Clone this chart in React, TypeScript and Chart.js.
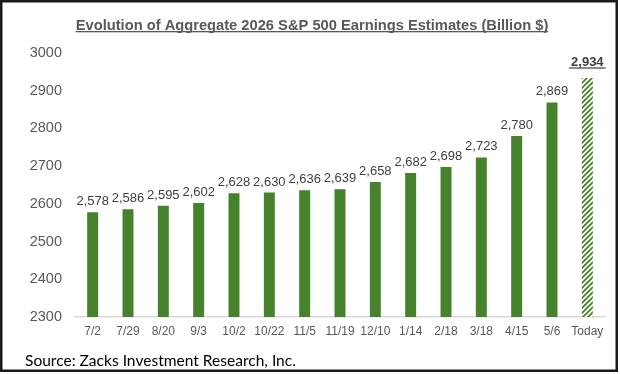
import React, { useEffect, useRef } from "react";
import { Chart, registerables } from "chart.js";

Chart.register(...registerables);

const categories = ["7/2", "7/29", "8/20", "9/3", "10/2", "10/22", "11/5", "11/19", "12/10", "1/14", "2/18", "3/18", "4/15", "5/6", "Today"];
const estimates = [2578, 2586, 2595, 2602, 2628, 2630, 2636, 2639, 2658, 2682, 2698, 2723, 2780, 2869, 2934];
const yMin = 2300;
const yMax = 3000;
const yStep = 100;
const titleText = "Evolution of Aggregate 2026 S&P 500 Earnings Estimates (Billion $)";
const sourceText = "Source: Zacks Investment Research, Inc.";

const GREEN = "#46812b";
const GREY = "#595959";

function makeHatch(): CanvasPattern | string {
  const c = document.createElement("canvas");
  c.width = 5;
  c.height = 5;
  const g = c.getContext("2d");
  if (!g) return GREEN;
  g.fillStyle = "#ffffff";
  g.fillRect(0, 0, 5, 5);
  g.strokeStyle = GREEN;
  g.lineWidth = 1.8;
  g.beginPath();
  g.moveTo(-1, 6);
  g.lineTo(6, -1);
  g.moveTo(-1, 1);
  g.lineTo(1, -1);
  g.moveTo(4, 6);
  g.lineTo(6, 4);
  g.stroke();
  const p = g.createPattern(c, "repeat");
  return p || GREEN;
}

function fmt(v: number): string {
  return v.toLocaleString("en-US");
}

export default function App() {
  const ref = useRef<HTMLCanvasElement | null>(null);

  useEffect(() => {
    const canvas = ref.current;
    if (!canvas) return;
    const hatch = makeHatch();
    const colors = estimates.map((_, i) => (i === estimates.length - 1 ? hatch : GREEN));

    const decor = {
      id: "decor",
      afterDraw(chart: any) {
        const ctx = chart.ctx as CanvasRenderingContext2D;
        ctx.save();
        // title
        ctx.font = "bold 14px 'Liberation Sans', Arial, sans-serif";
        let w = ctx.measureText(titleText).width;
        const tsize = 14 * (473 / w);
        ctx.font = `bold ${tsize}px 'Liberation Sans', Arial, sans-serif`;
        w = ctx.measureText(titleText).width;
        ctx.fillStyle = GREY;
        ctx.textAlign = "left";
        ctx.textBaseline = "alphabetic";
        const tx = 312 - w / 2;
        ctx.fillText(titleText, tx, 29.5);
        ctx.fillRect(tx, 31, w, 1.3);

        // source
        ctx.font = "15px Lato, 'Noto Sans', sans-serif";
        let sw = ctx.measureText(sourceText).width;
        const ssize = 15 * (271 / sw);
        ctx.font = `${ssize}px Lato, 'Noto Sans', sans-serif`;
        ctx.fillStyle = "#000000";
        ctx.fillText(sourceText, 25, 365.5);

        // border
        ctx.strokeStyle = "#1a1a1a";
        ctx.lineWidth = 2.5;
        ctx.strokeRect(1.25, 1.25, 615.5, 369.5);
        ctx.restore();
      },
      afterDatasetsDraw(chart: any) {
        const ctx = chart.ctx as CanvasRenderingContext2D;
        const meta = chart.getDatasetMeta(0);
        ctx.save();
        ctx.textAlign = "center";
        ctx.textBaseline = "alphabetic";
        meta.data.forEach((bar: any, i: number) => {
          const label = fmt(estimates[i]);
          const last = i === estimates.length - 1;
          if (last) {
            ctx.font = "bold 13px 'Liberation Sans', Arial, sans-serif";
            ctx.fillStyle = "#404040";
            const y = bar.y - 12;
            ctx.fillText(label, bar.x, y);
            const lw = ctx.measureText(label).width;
            ctx.fillRect(bar.x - lw / 2 - 2, y + 1.5, lw + 4, 1.2);
          } else {
            ctx.font = "13px 'Liberation Sans', Arial, sans-serif";
            ctx.fillStyle = "#404040";
            ctx.fillText(label, bar.x, bar.y - 7);
          }
        });
        ctx.restore();
      },
    };

    const chart = new Chart(canvas, {
      type: "bar",
      data: {
        labels: categories,
        datasets: [
          {
            data: estimates,
            backgroundColor: colors as any,
            borderWidth: 0,
            categoryPercentage: 0.31,
            barPercentage: 1,
          },
        ],
      },
      options: {
        responsive: false,
        animation: false,
        devicePixelRatio: 1,
        layout: { padding: { top: 53, right: 15, left: 0, bottom: 0 } },
        plugins: {
          legend: { display: false },
          title: { display: false },
          tooltip: { enabled: false },
        },
        scales: {
          x: {
            grid: { display: false, drawTicks: false },
            border: { display: true, color: "#d9d9d9", width: 1.5 },
            ticks: {
              color: GREY,
              font: { family: "'Liberation Sans', Arial, sans-serif", size: 12 },
              padding: 7,
              maxRotation: 0,
              autoSkip: false,
            },
            afterFit(scale: any) {
              scale.height = 57;
            },
          },
          y: {
            min: yMin,
            max: yMax,
            grid: { display: false, drawTicks: false },
            border: { display: false },
            ticks: {
              stepSize: yStep,
              color: GREY,
              font: { family: "'Liberation Sans', Arial, sans-serif", size: 14.5 },
              padding: 13,
              callback: (v: any) => String(v),
            },
            afterFit(scale: any) {
              scale.width = 75;
            },
          },
        },
      },
      plugins: [decor],
    });

    return () => chart.destroy();
  }, []);

  return (
    <div style={{ position: "absolute", left: 0, top: 0, width: 620, height: 374, background: "#ffffff" }}>
      <canvas ref={ref} width={620} height={374} style={{ display: "block", width: 620, height: 374 }} />
    </div>
  );
}
